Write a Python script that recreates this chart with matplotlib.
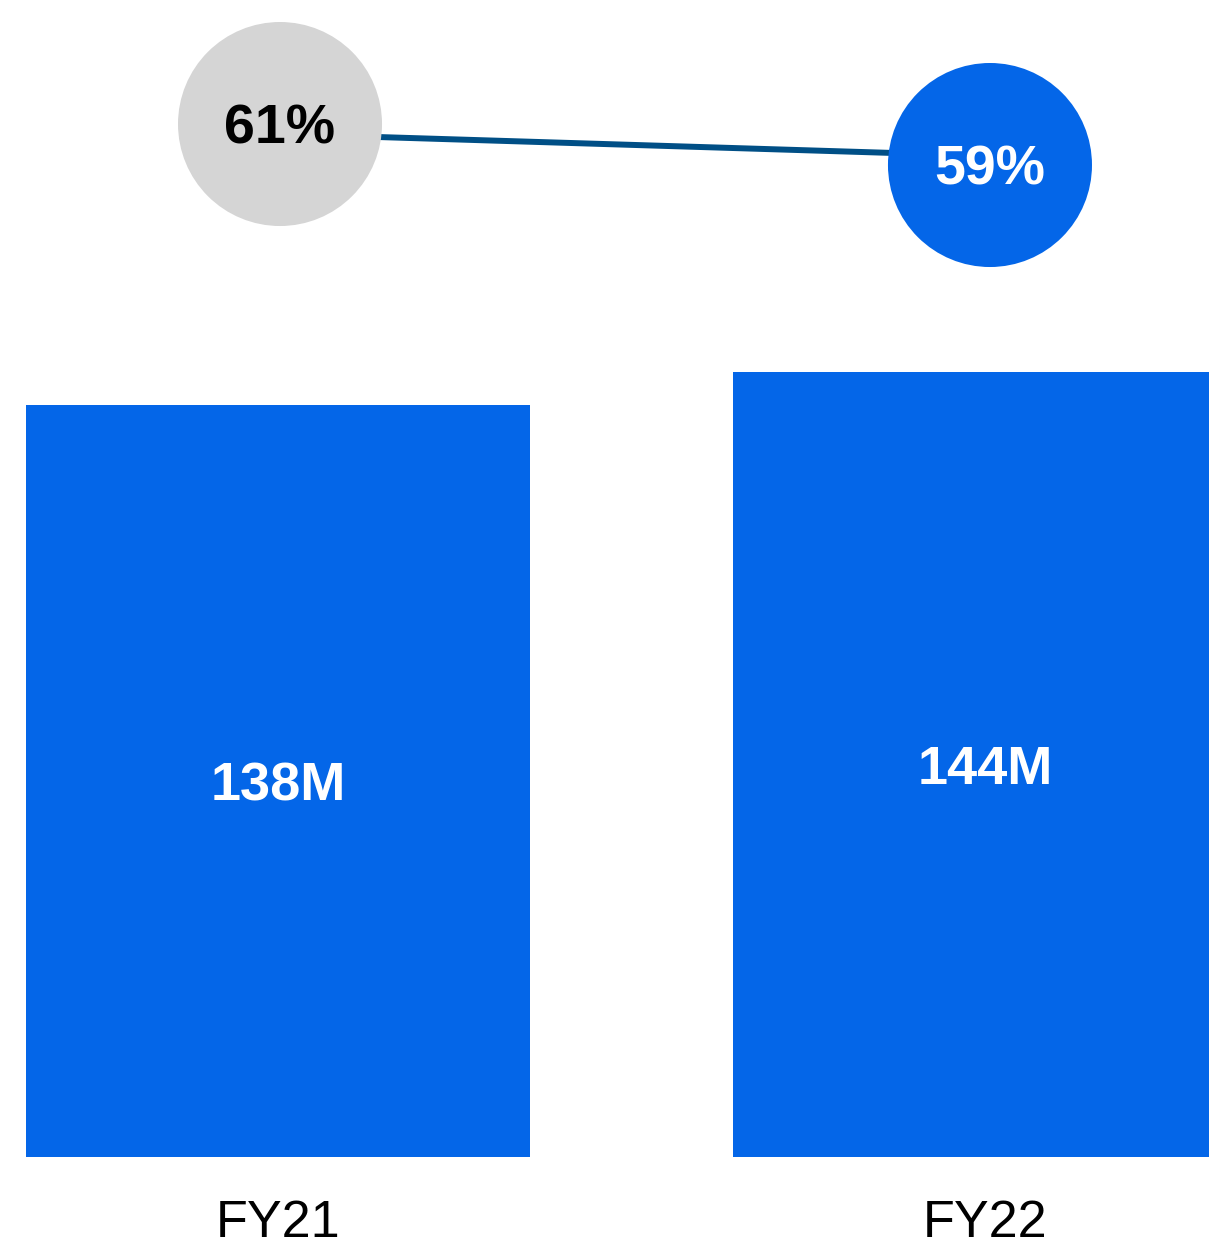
import matplotlib
matplotlib.use("Agg")
import matplotlib.pyplot as plt

# Data
years = ["FY21", "FY22"]
revenue_m = [138, 144]
share_pct = [61, 59]
bar_labels = ["138M", "144M"]
pct_labels = ["61%", "59%"]

BLUE = "#0466E8"
GREY = "#D5D5D5"
LINE = "#004F86"
FONT = "Liberation Sans"
CAP = 0.716  # cap height as a fraction of the font size


def centered(ax, x, y, s, fs, dy=0, **kw):
    """Place text so its cap height is vertically centred on (x, y)."""
    ax.annotate(s, xy=(x, y), xytext=(0, dy - CAP * fs / 2),
                textcoords="offset points", ha="center", va="baseline",
                fontsize=fs, family=FONT, **kw)


fig = plt.figure(figsize=(12.09, 12.43), dpi=100)

# Bars: revenue
ax = fig.add_axes([0, 0, 1, 1])
ax.set_xlim(-0.3932, 1.3168)
ax.set_ylim(-15.78, 212.3)
ax.axis("off")

x = list(range(len(years)))
ax.bar(x, revenue_m, width=0.713, color=BLUE, zorder=1)

for xi, v, lab in zip(x, revenue_m, bar_labels):
    centered(ax, xi, v / 2, lab, 39, color="white", fontweight="bold")

for xi, lab in zip(x, years):
    centered(ax, xi, 0, lab, 37.5, dy=-44, color="black")

# Connecting line for the share series
ax3 = fig.add_axes([0, 0, 1, 1])
ax3.set_xlim(-0.3944, 1.3085)
ax3.set_ylim(-39.82, 73.18)
ax3.axis("off")
ax3.patch.set_visible(False)
ax3.plot(x, share_pct, color=LINE, linewidth=4.3, solid_capstyle="butt")

# Share bubbles
ax2 = fig.add_axes([0, 0, 1, 1])
ax2.set_xlim(-0.3944, 1.3085)
ax2.set_ylim(6.41, 67.05)
ax2.axis("off")
ax2.patch.set_visible(False)
ax2.scatter(x, share_pct, s=21580, c=[GREY, BLUE], linewidths=0, zorder=2)
text_colors = ["black", "white"]
for xi, v, lab, c in zip(x, share_pct, pct_labels, text_colors):
    centered(ax2, xi, v, lab, 40, color=c, fontweight="bold", zorder=3)

fig.savefig("out.png", dpi=100)
